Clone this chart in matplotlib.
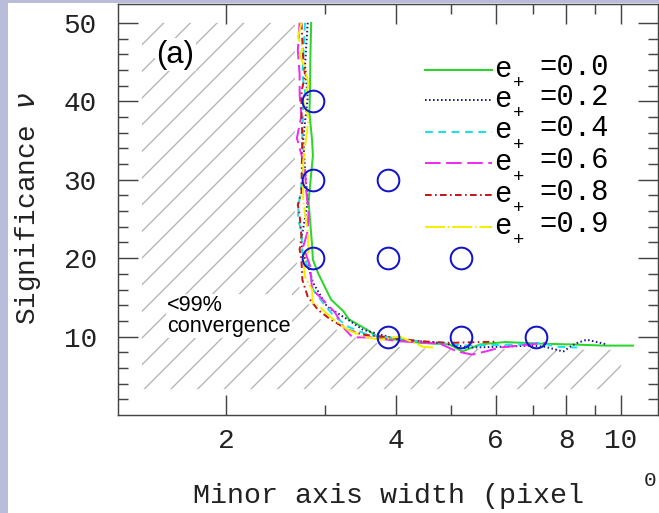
import matplotlib
matplotlib.use("Agg")
import matplotlib.pyplot as plt
from matplotlib.ticker import FixedLocator, FixedFormatter, NullFormatter
from matplotlib.patches import Polygon, Rectangle

plt.rcParams['lines.scale_dashes'] = False
plt.rcParams['hatch.linewidth'] = 1.2

MONO = 'Liberation Mono'
SANS = 'Liberation Sans'

# curves: minor axis width (pixels) vs significance
ep_labels = ["0.0", "0.2", "0.4", "0.6", "0.8", "0.9"]

x_e00 = [2.83, 2.82, 2.817, 2.81, 2.84, 2.85, 2.80, 2.84, 2.85, 2.91, 3.07, 3.23, 3.30,
         3.55, 3.72, 4.41, 4.97, 5.24, 5.63, 6.24, 7.19, 8.11, 9.33, 10.5]
y_e00 = [50, 45.2, 41.7, 38.5, 35.1, 33.1, 27.2, 21.7, 19.8, 18.1, 14.7, 13.2, 12.2,
         10.9, 9.9, 9.2, 9.0, 8.1, 9.0, 9.3, 9.1, 9.0, 8.85, 8.85]

x_e02 = [2.79, 2.76, 2.79, 2.76, 2.74, 2.76, 2.79, 2.76, 2.72, 2.73, 2.79, 2.85, 3.02,
         3.28, 3.49, 3.75, 4.06, 4.78, 5.39, 6.11, 6.9, 7.34, 7.9, 8.3, 8.7, 9.45]
y_e02 = [50, 44.6, 40.4, 37.4, 35.1, 31.2, 27.2, 25.1, 22.6, 20.7, 19.2, 16.9, 13.8,
         12.2, 10.9, 10.25, 9.6, 9.2, 8.6, 8.7, 8.85, 8.7, 8.1, 9.1, 9.6, 9.0]

x_e04 = [2.76, 2.74, 2.73, 2.76, 2.74, 2.73, 2.74, 2.73, 2.69, 2.68, 2.72, 2.73, 2.82,
         2.85, 2.97, 3.09, 3.28, 3.56, 3.90, 4.59, 5.39, 6.63, 7.19, 7.7, 8.36]
y_e04 = [50, 45.5, 43.4, 41.2, 39.5, 35.7, 32.5, 30.2, 26.8, 25.1, 23.4, 20.7, 18.1,
         16.0, 14.3, 12.8, 11.3, 10.25, 9.9, 9.2, 8.85, 9.0, 9.2, 8.7, 8.6]

x_e06 = [2.70, 2.68, 2.70, 2.70, 2.72, 2.67, 2.76, 2.77, 2.80, 2.79, 2.74, 2.82, 2.84,
         2.93, 3.12, 3.25, 3.35, 3.60, 4.06, 4.78, 5.13, 5.45, 5.76, 6.11, 6.90, 7.38]
y_e06 = [50, 46.5, 43.4, 40.8, 38.2, 35.3, 31.5, 29.0, 25.9, 23.4, 21.5, 18.9, 16.0,
         15.1, 13.05, 10.9, 9.9, 9.9, 9.4, 9.1, 8.1, 7.7, 8.1, 8.6, 9.0, 9.2]

x_e08 = [2.72, 2.74, 2.76, 2.72, 2.72, 2.73, 2.72, 2.68, 2.70, 2.72, 2.70, 2.72, 2.73,
         2.79, 2.91, 3.06, 3.28, 3.49, 3.90, 4.41, 4.97, 6.03]
y_e08 = [50, 45.5, 43.3, 41.2, 38.2, 35.7, 28.4, 26.8, 25.5, 22.6, 21.1, 19.8, 17.25,
         15.1, 13.4, 12.2, 10.9, 10.25, 9.9, 9.4, 9.2, 9.35]

x_e09 = [2.72, 2.68, 2.74, 2.70, 2.76, 2.80, 2.74, 2.80, 2.74, 2.74, 2.79, 2.80, 2.74,
         2.76, 2.84, 2.85, 2.93, 3.06, 3.28, 3.49, 3.75, 4.06, 4.46, 4.65]
y_e09 = [50, 48.1, 46.8, 45.9, 44.2, 42.1, 39.9, 37.9, 32.3, 27.2, 23.4, 20.8, 20.2,
         17.6, 16.0, 14.3, 13.8, 12.5, 10.9, 10.0, 9.6, 10.0, 8.7, 8.6]

# open circles
circ_x = [2.85, 2.85, 2.85, 3.87, 3.87, 3.87, 5.22, 5.22, 7.07]
circ_y = [40, 30, 20, 30, 20, 10, 20, 10, 10]

# outline of the <99% convergence area
hatch_x = [1.42, 2.65, 2.65, 2.70, 2.90, 3.20, 3.60, 4.20, 10.0, 10.0, 1.42]
hatch_y = [50, 50, 22, 16, 12.5, 10.5, 9.3, 8.5, 8.3, 3.3, 3.3]

x_major = [2, 4, 6, 8, 10]
x_major_labels = ["2", "4", "6", "8", "10"]
x_minor = [3, 5, 7, 9]
y_major = [10, 20, 30, 40, 50]
y_minor = [2, 4, 6, 8, 12, 14, 16, 18, 22, 24, 26, 28, 32, 34, 36, 38, 42, 44, 46, 48]

curves = [(x_e00, y_e00), (x_e02, y_e02), (x_e04, y_e04),
          (x_e06, y_e06), (x_e08, y_e08), (x_e09, y_e09)]
colors = ['#2ad62a', '#1c1c8c', '#19e3e8', '#f02cf0', '#c41a1a', '#f2f000']
styles = ['-', (0, (1.4, 2.2)), (0, (7, 5)), (0, (14, 5)), (0, (6, 3, 1.5, 3)),
          (0, (18, 2.5, 1.5, 2.5))]

W, H, DPI = 659, 513, 80
fig = plt.figure(figsize=(W / DPI, H / DPI), dpi=DPI)
fig.patch.set_facecolor('white')


def fx(px):
    return px / W


def fy(py):
    return 1 - py / H


# lavender strips at the left and top edge
fig.add_artist(Rectangle((0, 0), fx(8), 1, transform=fig.transFigure,
                         color='#b9bdd9', lw=0, zorder=0))
fig.add_artist(Rectangle((0, fy(3)), 1, 1, transform=fig.transFigure,
                         color='#b9bdd9', lw=0, zorder=0))

ax = fig.add_axes([fx(118), fy(415), 540 / W, 411 / H])
ax.set_xscale('log')
ax.set_xlim(1.288, 11.63)
ax.set_ylim(0, 52.4)

ax.add_patch(Polygon(list(zip(hatch_x, hatch_y)), closed=True, facecolor='none',
                     edgecolor='#b4b4b4', lw=0, hatch='/', zorder=1))

for (xs, ys), c, ls in zip(curves, colors, styles):
    ax.plot(xs, ys, color=c, ls=ls, lw=1.8, zorder=3)

ax.plot(circ_x, circ_y, 'o', mfc='none', mec='#1414c8', ms=19.5, mew=1.8, zorder=4)

ax.xaxis.set_major_locator(FixedLocator(x_major))
ax.xaxis.set_major_formatter(FixedFormatter(x_major_labels))
ax.xaxis.set_minor_locator(FixedLocator(x_minor))
ax.xaxis.set_minor_formatter(NullFormatter())
ax.yaxis.set_major_locator(FixedLocator(y_major))
ax.yaxis.set_minor_locator(FixedLocator(y_minor))

ax.tick_params(which='both', direction='in', top=True, right=True, color='#444444',
               width=1.3)
ax.tick_params(which='major', length=18)
ax.tick_params(which='minor', length=9)
ax.tick_params(axis='y', which='major', pad=19, labelsize=25, labelcolor='#222222')
ax.tick_params(axis='x', which='major', pad=12, labelsize=25, labelcolor='#222222')
for lab in ax.get_xticklabels() + ax.get_yticklabels():
    lab.set_family(MONO)
for s in ax.spines.values():
    s.set_color('#444444')
    s.set_linewidth(1.3)

ax.text((175.5 - 118) / 540, (415 - 54.5) / 411, '(a)', transform=ax.transAxes,
        family=SANS, fontsize=28, ha='center', va='center', zorder=5,
        bbox=dict(facecolor='white', edgecolor='none', pad=1))
ax.text((167 - 118) / 540, (415 - 316) / 411, '<99%\nconvergence', transform=ax.transAxes,
        family=SANS, fontsize=19.5, ha='left', va='center', linespacing=1.05, zorder=5,
        bbox=dict(facecolor='white', edgecolor='none', pad=1))

# legend drawn by hand
row_y = [70, 100, 131.5, 163, 194.5, 226.5]
for lbl, c, ls, py in zip(ep_labels, colors, styles, row_y):
    ax.plot([(425 - 118) / 540, (492 - 118) / 540], [(415 - py) / 411] * 2,
            transform=ax.transAxes, color=c, ls=ls, lw=1.8, clip_on=False, zorder=5)
    fig.text(fx(494), fy(py - 1), 'e', family=MONO, fontsize=26, ha='left', va='center')
    fig.text(fx(519), fy(py + 14), '+', family=MONO, fontsize=17, ha='center', va='center')
    fig.text(fx(539), fy(py - 3), '=' + lbl, family=MONO, fontsize=26, ha='left', va='center')

fig.text(fx(28), fy(208), 'Significance $\\nu$', family=MONO, fontsize=25, rotation=90,
         ha='center', va='center', color='#222222')
fig.text(fx(193), fy(503), 'Minor axis width (pixel', family=MONO, fontsize=25.5,
         ha='left', va='baseline', color='#222222')
fig.text(fx(650), fy(480), '0', family=MONO, fontsize=19, ha='center', va='center',
         color='#222222')

fig.savefig('out.png', dpi=DPI)
